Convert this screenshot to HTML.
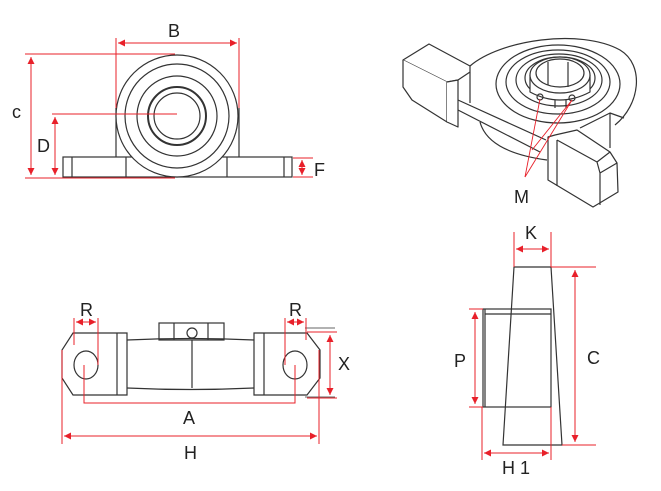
<!DOCTYPE html>
<html><head><meta charset="utf-8"><style>
html,body{margin:0;padding:0;background:#fff;}
svg{display:block;}
text{font-family:"Liberation Sans",sans-serif;font-size:18px;fill:#222;}
</style></head><body>
<svg width="661" height="491" viewBox="0 0 661 491" xmlns="http://www.w3.org/2000/svg">
<defs>
<marker id="a" viewBox="0 0 10 10" refX="10" refY="5" markerWidth="7" markerHeight="7" orient="auto-start-reverse" markerUnits="userSpaceOnUse">
<path d="M0,0 L10,5 L0,10 Z" fill="#e8202a"/></marker>
</defs>

<!-- TOP LEFT front view -->
<g fill="none" stroke="#333" stroke-width="1.2">
<rect x="63" y="157" width="229" height="20" fill="#fff"/>
<line x1="72" y1="157" x2="72" y2="177"/>
<line x1="284" y1="157" x2="284" y2="177"/>
<line x1="116" y1="108" x2="116" y2="157"/>
<line x1="239" y1="108" x2="239" y2="157"/>
<circle cx="177" cy="116" r="61" fill="#fff"/>
<line x1="126" y1="157" x2="126" y2="177"/>
<line x1="227" y1="157" x2="227" y2="177"/>
<circle cx="177" cy="116" r="52"/>
<circle cx="177" cy="116" r="40"/>
<circle cx="177" cy="116" r="29" stroke-width="2"/>
<circle cx="177" cy="116" r="23"/>
</g>
<g stroke="#e8202a" stroke-width="1" fill="none">
<line x1="116" y1="38" x2="116" y2="108"/>
<line x1="239" y1="38" x2="239" y2="108"/>
<line x1="118" y1="43" x2="237" y2="43" marker-start="url(#a)" marker-end="url(#a)"/>
<line x1="25" y1="54" x2="175" y2="54"/>
<line x1="25" y1="178" x2="175" y2="178"/>
<line x1="31" y1="57" x2="31" y2="175" marker-start="url(#a)" marker-end="url(#a)"/>
<line x1="52" y1="114" x2="177" y2="114"/>
<line x1="55" y1="117" x2="55" y2="175" marker-start="url(#a)" marker-end="url(#a)"/>
<line x1="293" y1="158" x2="313" y2="158"/>
<line x1="293" y1="177" x2="313" y2="177"/>
<line x1="302" y1="160" x2="302" y2="175" marker-start="url(#a)" marker-end="url(#a)"/>
</g>
<text x="168" y="37">B</text>
<text x="12" y="118">c</text>
<text x="37" y="152">D</text>
<text x="314" y="176">F</text>

<!-- TOP RIGHT isometric -->
<g fill="none" stroke="#333" stroke-width="1.2" stroke-linejoin="round">
<path d="M470,66 C500,40 580,28 620,50 C645,65 640,105 615,125" />
<ellipse cx="558" cy="84" rx="62" ry="39"/>
<ellipse cx="558" cy="82" rx="52" ry="32"/>
<ellipse cx="559" cy="80" rx="43" ry="26"/>
<ellipse cx="560" cy="78" rx="35" ry="21"/>
<path d="M530,75 L530,92 Q560,108 590,92 L590,75" fill="#fff"/>
<ellipse cx="560" cy="75" rx="30" ry="18" fill="#fff"/>
<ellipse cx="560" cy="73" rx="24" ry="14"/>
<line x1="548" y1="62" x2="548" y2="85"/><line x1="568" y1="62" x2="568" y2="87"/>
<line x1="555" y1="100" x2="555" y2="108"/><line x1="566" y1="100" x2="566" y2="108"/>
<circle cx="540" cy="97" r="3"/><circle cx="572" cy="98" r="3"/>
<path d="M480,122 Q488,152 547,160"/>
<path d="M458,100 L546,140 M458,110 L540,152 M470,72 L470,103"/>
<path d="M580,128 L610,113 L624,118 M610,113 L610,148" />
<path d="M403,60 L429,44 L470,66 L470,72 L458,80 L447,82 Z" fill="#fff"/>
<path d="M403,60 L403,87 L412,100 L447,122 L447,82" fill="#fff"/>
<path d="M447,82 L458,80 L458,127 L447,122" fill="#fff"/>
<path d="M548,137 L548,180 L593,207 L618,192 L617,163 L610,152 L577,130 L555,135 Z" fill="#fff"/>
<path d="M557,140 L597,162 L610,152 M597,162 L600,173 L600,205 M600,173 L617,163 M557,140 L557,186"/>
</g>
<g stroke="#e8202a" stroke-width="0.9" fill="none">
<line x1="540" y1="99" x2="525" y2="177"/>
<line x1="572" y1="100" x2="525" y2="177"/>
<line x1="572" y1="100" x2="532" y2="150"/>
</g>
<text x="514" y="203">M</text>

<!-- BOTTOM LEFT top view -->
<g fill="none" stroke="#333" stroke-width="1.2">
<path d="M127,340 Q190,337 254,340 M127,388 Q190,391 254,388"/>
<line x1="192" y1="340" x2="192" y2="388"/>
<rect x="159" y="323" width="65" height="17"/>
<line x1="174" y1="323" x2="174" y2="340"/><line x1="208" y1="323" x2="208" y2="340"/>
<circle cx="192" cy="333" r="5" fill="#fff"/>
<path d="M73,333 L127,333 L127,395 L73,395 L62,378 L62,350 Z"/>
<line x1="117" y1="333" x2="117" y2="395"/>
<ellipse cx="86" cy="365" rx="12" ry="14"/>
<path d="M254,333 L307,333 L320,350 L320,378 L307,395 L254,395 Z"/>
<line x1="264" y1="333" x2="264" y2="395"/>
<ellipse cx="295" cy="365" rx="12" ry="14"/>
<line x1="305" y1="328" x2="335" y2="328" stroke-width="0.8"/>
<line x1="305" y1="397" x2="335" y2="397" stroke-width="0.8"/>
</g>
<g stroke="#e8202a" stroke-width="1" fill="none">
<line x1="74" y1="318" x2="74" y2="345"/><line x1="98" y1="318" x2="98" y2="365"/>
<line x1="76" y1="322" x2="96" y2="322" marker-start="url(#a)" marker-end="url(#a)"/>
<line x1="285" y1="318" x2="285" y2="365"/><line x1="306" y1="318" x2="306" y2="340"/>
<line x1="287" y1="322" x2="304" y2="322" marker-start="url(#a)" marker-end="url(#a)"/>
<line x1="307" y1="332" x2="337" y2="332"/><line x1="307" y1="398" x2="337" y2="398"/>
<line x1="330" y1="335" x2="330" y2="395" marker-start="url(#a)" marker-end="url(#a)"/>
<path d="M84,365 L84,403 L295,403 L295,365"/>
<line x1="62" y1="350" x2="62" y2="444"/><line x1="319" y1="350" x2="319" y2="444"/>
<line x1="64" y1="436" x2="317" y2="436" marker-start="url(#a)" marker-end="url(#a)"/>
</g>
<text x="80" y="316">R</text>
<text x="289" y="316">R</text>
<text x="338" y="370">X</text>
<text x="183" y="424">A</text>
<text x="184" y="459">H</text>

<!-- BOTTOM RIGHT side view -->
<g fill="none" stroke="#333" stroke-width="1.2">
<rect x="483" y="309" width="68" height="98" fill="#fff"/>
<line x1="485" y1="314" x2="551" y2="314"/>
<line x1="485" y1="309" x2="485" y2="407"/>
<path d="M514,267 L551,267 L562,445 L503,445 Z"/>
</g>
<g stroke="#e8202a" stroke-width="1" fill="none">
<line x1="514" y1="232" x2="514" y2="267"/><line x1="551" y1="232" x2="551" y2="267"/>
<line x1="516" y1="249" x2="549" y2="249" marker-start="url(#a)" marker-end="url(#a)"/>
<line x1="551" y1="267" x2="596" y2="267"/><line x1="562" y1="445" x2="596" y2="445"/>
<line x1="575" y1="270" x2="575" y2="442" marker-start="url(#a)" marker-end="url(#a)"/>
<line x1="469" y1="309" x2="483" y2="309"/><line x1="469" y1="407" x2="483" y2="407"/>
<line x1="475" y1="312" x2="475" y2="404" marker-start="url(#a)" marker-end="url(#a)"/>
<line x1="482" y1="407" x2="482" y2="460"/><line x1="551" y1="407" x2="551" y2="460"/>
<line x1="484" y1="453" x2="549" y2="453" marker-start="url(#a)" marker-end="url(#a)"/>
</g>
<text x="525" y="239">K</text>
<text x="587" y="364">C</text>
<text x="454" y="367">P</text>
<text x="502" y="474">H 1</text>
</svg>
</body></html>
